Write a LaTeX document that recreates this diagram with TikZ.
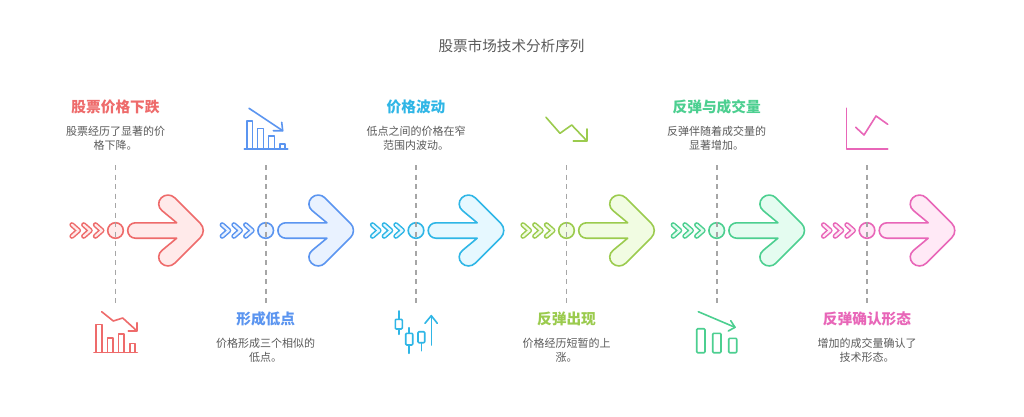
\documentclass[tikz,border=0pt]{standalone}
\usepackage{fontspec}
\setmainfont{Noto Sans CJK SC}
\definecolor{cred}{HTML}{EE6B6B}\definecolor{lred}{HTML}{FFEAEA}
\definecolor{cblue}{HTML}{5B95F0}\definecolor{lblue}{HTML}{E9F2FF}
\definecolor{ccyan}{HTML}{2FB6E6}\definecolor{lcyan}{HTML}{E6F8FF}
\definecolor{clime}{HTML}{9BCB4E}\definecolor{llime}{HTML}{F1FCE2}
\definecolor{cgreen}{HTML}{4CCF90}\definecolor{lgreen}{HTML}{E4FCF0}
\definecolor{cpink}{HTML}{E866B8}\definecolor{lpink}{HTML}{FFE9F6}
\definecolor{ctext}{HTML}{5A5A5A}
\tikzset{
  stem/.style={draw=black!35,line width=1.6pt,dash pattern=on 5pt off 4.5pt},
  headline/.style={font=\fontsize{14.7}{17}\selectfont\bfseries,anchor=center,inner sep=0pt},
  bodytext/.style={font=\fontsize{11}{14.2}\selectfont,text=ctext,align=center,anchor=center,inner sep=0pt},
  icon/.style={line width=1.6pt,line join=round,line cap=round},
}
\newcommand{\stagearrow}[4]{% index, x, stroke, fill
  \begin{scope}[xshift=#2pt,yshift=-230.5pt]
    \draw[draw=#3,fill=#4,line width=1.6pt,line join=round]
      (30,-7.7) -- (61.2,-7.7) [rounded corners=9.5pt] -- (39.1,-26) -- (52.5,-39.4)
      [rounded corners=10pt] -- (91.9,0) [rounded corners=9.5pt] -- (52.5,39.4) -- (39.1,26)
      [sharp corners] -- (61.2,7.7) -- (30,7.7)
      [rounded corners=7.7pt] -- (12.2,7.7) -- (12.2,-7.7) -- cycle;
    \foreach \d in {0,11.7,23.4}{
      \draw[draw=#3,line width=5.2pt,line join=round,line cap=round] (-43.5+\d,-5.7) -- (-37+\d,0) -- (-43.5+\d,5.7);
      \draw[draw=#4,line width=2.2pt,line join=round,line cap=round] (-43.5+\d,-5.7) -- (-37+\d,0) -- (-43.5+\d,5.7);
    }
  \end{scope}
  \node[circle,draw=#3,fill=#4,line width=1.6pt,minimum size=15.6pt,inner sep=0pt] (dot#1) at (#2,230.5) {};
  \coordinate (top#1) at (#2,165);
  \coordinate (bot#1) at (#2,303);
  \draw[stem] (top#1) -- (bot#1);
}
\begin{document}
\begin{tikzpicture}[x=1pt,y=-1pt]
\useasboundingbox (0,0) rectangle (1024,417);
\fill[white] (0,0) rectangle (1024,417);
\node[font=\fontsize{14.6}{17}\selectfont,text=ctext,inner sep=0pt] (heading) at (511.5,46) {股票市场技术分析序列};

\stagearrow{1}{115.5}{cred}{lred}
\stagearrow{2}{265.7}{cblue}{lblue}
\stagearrow{3}{416}{ccyan}{lcyan}
\stagearrow{4}{566.5}{clime}{llime}
\stagearrow{5}{716.7}{cgreen}{lgreen}
\stagearrow{6}{867}{cpink}{lpink}

% texts
\node[headline,text=cred] (t1) at (115.5,106.7) {股票价格下跌};
\node[bodytext] (b1) at (115.5,138) {股票经历了显著的价\\格下降。};
\node[headline,text=cblue] (t2) at (265.7,319) {形成低点};
\node[bodytext] (b2) at (265.7,350) {价格形成三个相似的\\低点。};
\node[headline,text=ccyan] (t3) at (416,106.7) {价格波动};
\node[bodytext] (b3) at (416,138) {低点之间的价格在窄\\范围内波动。};
\node[headline,text=clime] (t4) at (566.5,319) {反弹出现};
\node[bodytext] (b4) at (566.5,350) {价格经历短暂的上\\涨。};
\node[headline,text=cgreen] (t5) at (716.7,106.7) {反弹与成交量};
\node[bodytext] (b5) at (716.7,138) {反弹伴随着成交量的\\显著增加。};
\node[headline,text=cpink] (t6) at (867,319) {反弹确认形态};
\node[bodytext] (b6) at (867,350) {增加的成交量确认了\\技术形态。};

% icon 1
\begin{scope}[icon,draw=cred]
  \draw (94,352.3) -- (137.3,352.3);
  \draw (95.7,352.3) -- (95.7,324.3) -- (101.7,324.3) -- (101.7,352.3);
  \draw (107.3,352.3) -- (107.3,337.7) -- (112.7,337.7) -- (112.7,352.3);
  \draw (118.3,352.3) -- (118.3,334) -- (124,334) -- (124,352.3);
  \draw (129.7,352.3) -- (129.7,343.3) -- (135,343.3) -- (135,352.3);
  \draw (101.7,311.7) -- (113.3,321) -- (122.7,318) -- (136.7,330.7);
  \draw (136.7,322.7) -- (136.7,330.7) -- (128.3,330.7);
\end{scope}
% icon 2
\begin{scope}[icon,draw=cblue]
  \draw (244.3,149) -- (287.7,149);
  \draw (246.7,149) -- (246.7,121) -- (252.3,121) -- (252.3,149);
  \draw (257.3,149) -- (257.3,128.3) -- (263.3,128.3) -- (263.3,149);
  \draw (268.3,149) -- (268.3,135.7) -- (274.3,135.7) -- (274.3,149);
  \draw (279.7,149) -- (279.7,143.7) -- (285,143.7) -- (285,149);
  \draw (249,108.3) -- (282.7,130.7);
  \draw (281.7,122.3) -- (282.7,130.7) -- (273.3,130.7);
\end{scope}
% icon 3
\begin{scope}[icon,draw=ccyan]
  \draw (398.7,311) -- (398.7,319.3) (398.7,329) -- (398.7,334.3);
  \draw[rounded corners=1pt] (395.3,319.3) rectangle (402.3,329);
  \draw (409,327.7) -- (409,333.3) (409,345) -- (409,353.3);
  \draw[rounded corners=1pt] (405.7,333.3) rectangle (412.7,345);
  \draw (421.3,342.7) -- (421.3,350.7);
  \draw[rounded corners=1pt] (418,331.7) rectangle (424.7,342.7);
  \draw (431.3,345) -- (431.3,315.7);
  \draw (425,323.3) -- (431.3,315.7) -- (437.3,323.3);
\end{scope}
% icon 4
\begin{scope}[icon,draw=clime]
  \draw (546,117.3) -- (560,133.3) -- (571.7,125) -- (586.7,140.7);
  \draw (586.7,129) -- (586.7,140.7) -- (573.3,140.7);
\end{scope}
% icon 5
\begin{scope}[icon,draw=cgreen]
  \draw[rounded corners=1pt] (696.7,328.7) rectangle (705,352.7);
  \draw[rounded corners=1pt] (712.7,333.3) rectangle (721,352.7);
  \draw[rounded corners=1pt] (728.7,338.3) rectangle (736.7,352.7);
  \draw (698.3,311.7) -- (735,327.3);
  \draw (730.7,320.7) -- (735,327.3) -- (728.3,331);
\end{scope}
% icon 6
\begin{scope}[icon,draw=cpink]
  \draw (846.3,108.3) -- (846.3,149) -- (887.7,149);
  \draw (855.7,127.3) -- (864,135) -- (876,116) -- (887.7,124.3);
\end{scope}
\end{tikzpicture}
\end{document}
